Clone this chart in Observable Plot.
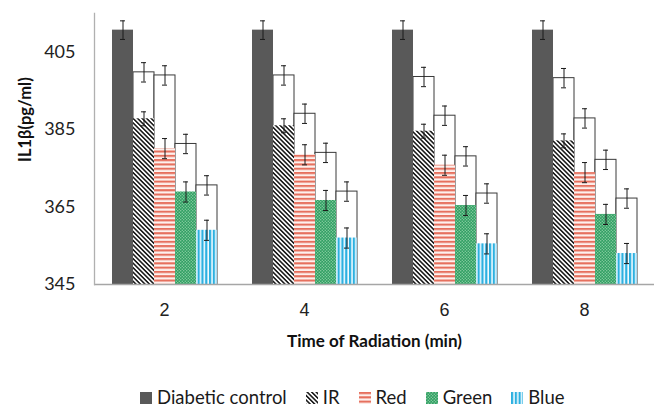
<!DOCTYPE html>
<html><head><meta charset="utf-8">
<script src="https://cdn.jsdelivr.net/npm/d3@7"></script>
<script src="https://cdn.jsdelivr.net/npm/@observablehq/plot@0.6"></script>
<style>
body{margin:0;background:#fff;font-family:Lato,sans-serif;}
#chart svg{display:block}
g[aria-label="fx-axis label"] text{font-weight:bold;font-size:17px;font-family:Lato,sans-serif;fill:#111}
.legend{display:flex;align-items:center;height:19px;line-height:19px;padding-top:8px;padding-left:140px;font-size:18.5px;color:#1a1a1a;font-family:Lato,sans-serif}
.legend .item{display:flex;align-items:center;margin-right:19px}
.legend svg{margin-right:5px;display:block}
</style></head><body>
<div id="chart"></div>
<div class="legend" id="legend"></div>
<script>
// categories
const times = [2, 4, 6, 8];
const series = ["Diabetic control", "IR", "Red", "Green", "Blue"];
const yTicks = [345, 365, 385, 405];
const yBase = 345;
const yTitle = "IL1β(pg/ml)";
const xTitle = "Time of Radiation (min)";

// Diabetic control bars
const controlValues = [410.7, 410.7, 410.7, 410.7];
const controlErrors = [2.4, 2.4, 2.4, 2.4];

// white (outlined) bars behind each treatment
const irOutline    = [399.8, 399.0, 398.6, 398.3];
const redOutline   = [399.0, 389.1, 388.6, 387.9];
const greenOutline = [381.3, 379.0, 378.1, 377.2];
const blueOutline  = [370.6, 369.0, 368.5, 367.2];
const outlineErrors = [2.5, 2.5, 2.5, 2.5];

// patterned treatment bars
const irValues    = [387.8, 386.0, 384.6, 382.1];
const redValues   = [380.1, 378.5, 375.8, 373.9];
const greenValues = [368.9, 366.7, 365.4, 363.1];
const blueValues  = [359.0, 357.0, 355.5, 353.0];
const irErrors    = [1.8, 1.8, 1.8, 1.8];
const colorErrors = [2.6, 2.6, 2.6, 2.6];

const fills = {
  "Diabetic control": "#595959",
  "IR": "url(#pIR)",
  "Red": "url(#pRed)",
  "Green": "url(#pGreen)",
  "Blue": "url(#pBlue)"
};

const controlRows = times.map((t, i) => ({time: t, series: "Diabetic control", value: controlValues[i], err: controlErrors[i]}));
const outlineRows = [];
const colorRows = [];
const treat = [
  ["IR", irOutline, irValues, irErrors],
  ["Red", redOutline, redValues, colorErrors],
  ["Green", greenOutline, greenValues, colorErrors],
  ["Blue", blueOutline, blueValues, colorErrors]
];
for (const [s, outl, vals, errs] of treat) {
  times.forEach((t, i) => {
    outlineRows.push({time: t, series: s, value: outl[i], err: outlineErrors[i]});
    colorRows.push({time: t, series: s, value: vals[i], err: errs[i]});
  });
}
const allRows = [...outlineRows, ...controlRows, ...colorRows];

const patternBars = Object.keys(fills).filter(s => s !== "Diabetic control").map(s =>
  Plot.barY(colorRows.filter(d => d.series === s), {fx: "time", x: "series", y1: () => yBase, y2: "value", fill: fills[s]})
);

const chart = Plot.plot({
  width: 659, height: 380,
  marginLeft: 94, marginRight: 5, marginTop: 13, marginBottom: 96,
  style: {fontFamily: "Lato, sans-serif", background: "white", color: "#222"},
  fx: {domain: times, padding: 0},
  x: {domain: series, paddingInner: 0, paddingOuter: 0.77, axis: null},
  y: {domain: [345, 415]},
  marks: [
    Plot.barY(outlineRows, {fx: "time", x: "series", y1: () => yBase, y2: "value", fill: "white", stroke: "#3a3a3a", strokeWidth: 1}),
    Plot.barY(controlRows, {fx: "time", x: "series", y1: () => yBase, y2: "value", fill: fills["Diabetic control"]}),
    ...patternBars,
    Plot.ruleX(allRows, {fx: "time", x: "series", y1: d => d.value - d.err, y2: d => d.value + d.err, stroke: "#1a1a1a", strokeWidth: 1}),
    Plot.tickY(allRows, {fx: "time", x: "series", y: d => d.value + d.err, inset: 8, stroke: "#1a1a1a", strokeWidth: 1}),
    Plot.tickY(allRows, {fx: "time", x: "series", y: d => d.value - d.err, inset: 8, stroke: "#1a1a1a", strokeWidth: 1}),
    Plot.ruleY([yBase], {stroke: "#a6a6a6", strokeWidth: 1.3}),
    Plot.frame({anchor: "left", facetAnchor: "left", stroke: "#b0b0b0", strokeWidth: 1.3}),
    Plot.axisY({ticks: yTicks, tickSize: 0, tickPadding: 19, fontSize: 18, label: null}),
    Plot.text([yTitle], {frameAnchor: "left", facetAnchor: "left", rotate: -90, dx: -69, dy: 13, fontSize: 16.5, fontWeight: "bold", fill: "#111"}),
    Plot.axisFx({anchor: "bottom", tickSize: 0, tickPadding: 19, fontSize: 18, fontFamily: "Liberation Sans", label: xTitle, labelArrow: "none", labelAnchor: "center", labelOffset: 62})
  ]
});

const svg = chart.tagName.toLowerCase() === "svg" ? chart : chart.querySelector("svg");
const defsHTML = `
<pattern id="pIR" width="3.2" height="3.2" patternUnits="userSpaceOnUse" patternTransform="rotate(-45)">
  <rect width="3.2" height="3.2" fill="#ffffff"/><rect width="1.6" height="3.2" fill="#1e1e1e"/>
</pattern>
<pattern id="pRed" width="8" height="4.3" patternUnits="userSpaceOnUse">
  <rect width="8" height="4.3" fill="#fdf1ee"/><rect y="0" width="8" height="2.1" fill="#e6705e"/>
</pattern>
<pattern id="pGreen" width="3" height="3" patternUnits="userSpaceOnUse">
  <rect width="3" height="3" fill="#2f9f62"/><rect x="0.2" y="0.2" width="1.1" height="1.1" fill="#a9dcb8"/><rect x="1.7" y="1.7" width="1.1" height="1.1" fill="#a9dcb8"/>
</pattern>
<pattern id="pBlue" width="3.8" height="8" patternUnits="userSpaceOnUse">
  <rect width="3.8" height="8" fill="#f2fbff"/><rect x="0" width="2.2" height="8" fill="#2cb0e0"/>
</pattern>`;
const defs = document.createElementNS("http://www.w3.org/2000/svg", "defs");
defs.innerHTML = defsHTML;
svg.insertBefore(defs, svg.firstChild);
document.getElementById("chart").appendChild(chart);

// legend
const legend = d3.select("#legend");
for (const s of series) {
  const item = legend.append("div").attr("class", "item");
  const sw = item.append("svg").attr("width", 12).attr("height", 12);
  sw.append("rect").attr("width", 12).attr("height", 12).attr("fill", fills[s]);
  item.append("span").text(s);
}
</script>
</body></html>
